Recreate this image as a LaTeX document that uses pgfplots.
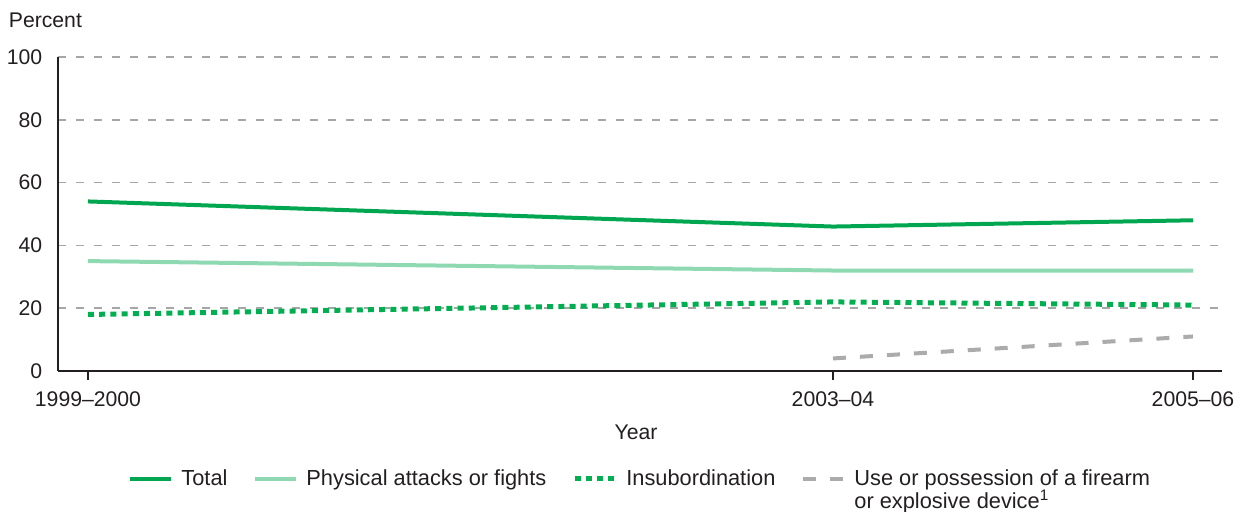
\documentclass[border=0pt]{standalone}
\usepackage{fontspec}
\setmainfont{Liberation Sans}
\usepackage{pgfplots}
\pgfplotsset{compat=1.18}
\definecolor{totalgreen}{HTML}{00A650}
\definecolor{physgreen}{HTML}{8FD9B2}
\definecolor{insubgreen}{HTML}{00B050}
\definecolor{firegray}{HTML}{ABABAB}
\definecolor{gridgray}{HTML}{A6A6A6}
\definecolor{axisdark}{HTML}{231F20}
\begin{document}
\fontsize{10.6bp}{12.7bp}\selectfont
\begin{tikzpicture}
\useasboundingbox (-29bp,-70.5bp) rectangle (593.5bp,185.5bp);
\begin{axis}[
  at={(0,0)}, anchor=south west,
  scale only axis, width=582bp, height=157bp,
  xmin=-30, xmax=1134, ymin=0, ymax=100,
  axis x line=bottom, axis y line=left,
  axis line style={-, draw=axisdark, line width=0.75bp},
  xtick={0,745,1105},
  xticklabels={1999--2000, 2003--04, 2005--06},
  ytick={0,20,40,60,80,100},
  ymajorgrids,
  major grid style={gridgray, line width=0.75bp, dash pattern=on 4bp off 5bp},
  ytick style={draw=none},
  xtick style={draw=axisdark, line width=0.75bp},
  tick align=outside, major tick length=4.5bp,
  /pgf/number format/assume math mode=true,
  ticklabel style={font=\fontsize{10.6bp}{12.7bp}\selectfont, text=axisdark},
  yticklabel style={xshift=0.3bp},
  xticklabel style={yshift=-2bp},
  xlabel={Year},
  xlabel style={font=\fontsize{10.6bp}{12.7bp}\selectfont, text=axisdark, yshift=-2bp, xshift=-2bp},
  ylabel={Percent},
  ylabel style={rotate=-90, at={(rel axis cs:0,1)}, anchor=base west, xshift=-28.3bp, yshift=14.7bp, font=\fontsize{10.6bp}{12.7bp}\selectfont, text=axisdark},
  legend columns=4,
  legend style={draw=none, fill=none, at={(rel axis cs:0,0)}, anchor=north west, xshift=35bp, yshift=-49bp,
    font=\fontsize{10.9bp}{13bp}\selectfont, text=axisdark,
    inner sep=0pt, nodes={inner xsep=4bp, inner ysep=0bp},
    /tikz/every even column/.append style={column sep=9bp}},
  legend cell align=left,
  legend image code/.code={\draw[#1] (0bp,0bp) -- (20.5bp,0bp);},
]
\addplot[totalgreen, line width=2bp] coordinates {(0,54) (745,46) (1105,48)};
\addlegendentry{Total}
\addplot[physgreen, line width=2bp] coordinates {(0,35) (745,32) (1105,32)};
\addlegendentry{Physical attacks or fights}
\addplot[insubgreen, line width=2.5bp, dash pattern=on 3bp off 2.6bp] coordinates {(0,18) (745,22) (1105,21)};
\addlegendentry{Insubordination}
\addplot[firegray, line width=2bp, dash pattern=on 6.5bp off 7bp] coordinates {(745,4) (1105,11)};
\addlegendentry{\parbox[t]{170bp}{Use or possession of a firearm\\[-1.5pt]or explosive device\textsuperscript{1}}}
\end{axis}
\end{tikzpicture}
\end{document}
